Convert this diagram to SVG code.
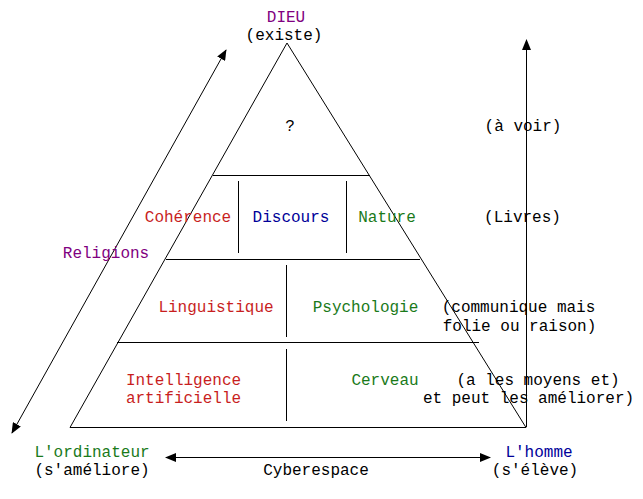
<svg xmlns="http://www.w3.org/2000/svg" width="643" height="499" viewBox="0 0 643 499">
<style>
text{font-family:"Liberation Mono","Courier New",monospace;font-size:16px;text-anchor:middle;fill:#000}
.purple{fill:#800080}.red{fill:#c81e1e}.blue{fill:#000099}.green{fill:#1a7a1a}
.ln{stroke:#000;stroke-width:1;fill:none}
.arr{stroke:#000;stroke-width:1;fill:none;marker-end:url(#ah);marker-start:url(#ah)}
</style>
<defs>
<marker id="ah" markerUnits="userSpaceOnUse" markerWidth="11" markerHeight="9" refX="10" refY="4.5" orient="auto-start-reverse">
<path d="M0,0 L11,4.5 L0,9 z" fill="#000"/>
</marker>
</defs>
<rect width="643" height="499" fill="#fff"/>
<g id="pyramid" class="ln">
<path d="M70,427.5 L287,43 L526,427.5 Z"/>
<line x1="213" y1="175.5" x2="370" y2="175.5"/>
<line x1="166" y1="259.5" x2="420" y2="259.5"/>
<line x1="117" y1="342.5" x2="479" y2="342.5"/>
<line x1="238.5" y1="181" x2="238.5" y2="253"/>
<line x1="346.5" y1="181" x2="346.5" y2="253"/>
<line x1="286.5" y1="265" x2="286.5" y2="337"/>
<line x1="286.5" y1="349" x2="286.5" y2="421"/>
</g>
<g id="connectors">
<line class="arr" x1="12" y1="433" x2="226" y2="50"/>
<line class="ln" x1="526.5" y1="427" x2="526.5" y2="40" marker-end="url(#ah)"/>
<line class="arr" x1="166" y1="457.5" x2="490" y2="457.5"/>
</g>
<g id="dieu"><text class="purple" x="286" y="22">DIEU</text><text x="284" y="40">(existe)</text></g>
<g id="q"><text x="290" y="131">?</text></g>
<g id="avoir"><text x="523" y="131">(à voir)</text></g>
<g id="coherence"><text class="red" x="188" y="222">Cohérence</text></g>
<g id="discours"><text class="blue" x="291" y="222">Discours</text></g>
<g id="nature"><text class="green" x="387" y="222">Nature</text></g>
<g id="livres"><text x="522.5" y="222">(Livres)</text></g>
<g id="religions"><text class="purple" x="106" y="258">Religions</text></g>
<g id="linguistique"><text class="red" x="216" y="312">Linguistique</text></g>
<g id="psychologie"><text class="green" x="365.5" y="312">Psychologie</text></g>
<g id="communique"><text x="518.5" y="312">(communique mais</text><text x="519.5" y="331">folie ou raison)</text></g>
<g id="ia"><text class="red" x="183.5" y="385">Intelligence</text><text class="red" x="183.5" y="403">artificielle</text></g>
<g id="cerveau"><text class="green" x="385" y="385">Cerveau</text></g>
<g id="moyens"><text x="538" y="385">(a les moyens et)</text><text x="528.5" y="403">et peut les améliorer)</text></g>
<g id="ordinateur"><text class="green" x="92" y="457">L'ordinateur</text><text x="92" y="475">(s'améliore)</text></g>
<g id="cyberespace"><text x="316" y="475">Cyberespace</text></g>
<g id="homme"><text class="blue" x="539" y="457">L'homme</text><text x="535" y="475">(s'élève)</text></g>
</svg>
